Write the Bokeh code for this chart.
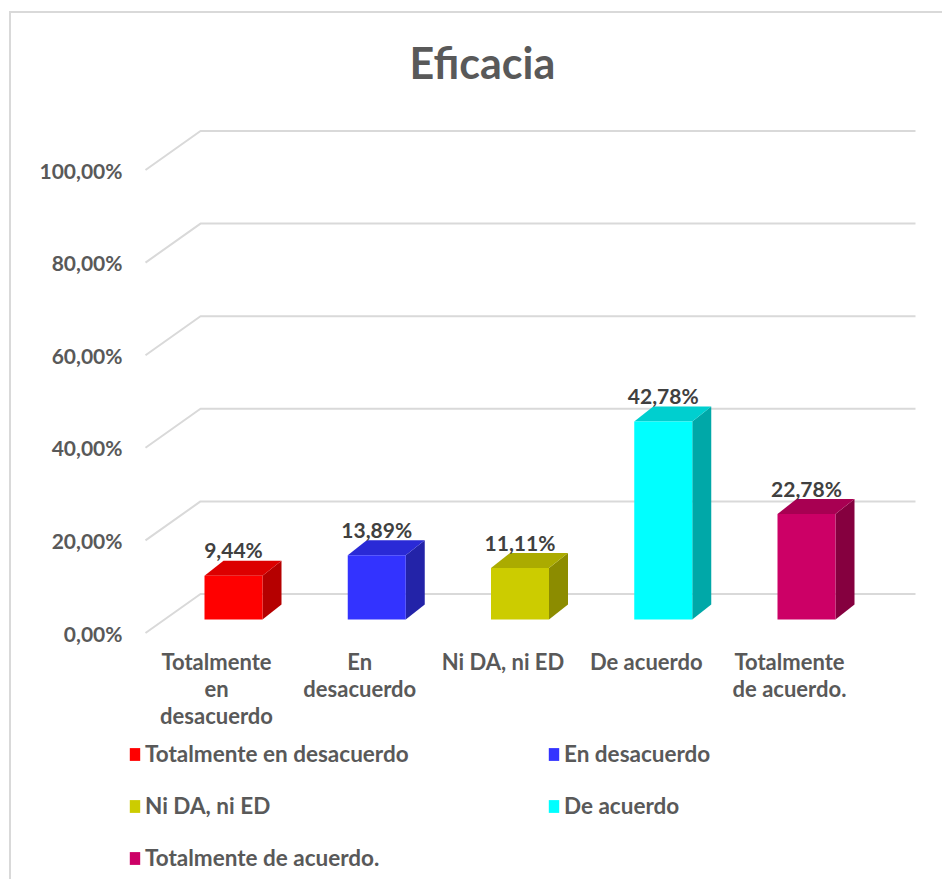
from bokeh.plotting import figure
from bokeh.models import Range1d, FixedTicker, ColumnDataSource, Legend, LegendItem
from bokeh.core.properties import value
from bokeh.embed import file_html
from bokeh.resources import INLINE

# ---------------- data ----------------
categories = ["Totalmente en desacuerdo", "En desacuerdo", "Ni DA, ni ED", "De acuerdo", "Totalmente de acuerdo."]
axis_labels = ["Totalmente\nen\ndesacuerdo", "En\ndesacuerdo", "Ni DA, ni ED", "De acuerdo", "Totalmente\nde acuerdo."]
values = [9.44, 13.89, 11.11, 42.78, 22.78]
front_colors = ["#FF0000", "#3333FF", "#CCCC00", "#00FFFF", "#CC0066"]
side_colors = ["#B50000", "#2323A8", "#8C8C00", "#00A8A8", "#85003F"]
top_colors = ["#DC0000", "#2A2AD6", "#ABAB00", "#00CFCF", "#A80052"]
y_ticks = [0, 20, 40, 60, 80, 100]
y_tick_labels = ["0,00%", "20,00%", "40,00%", "60,00%", "80,00%", "100,00%"]
title_text = "Eficacia"

# ---------------- geometry (style constants) ----------------
UX = 143.25   # px per category
UY = 4.63     # px per percent
wall_front_x = -71 / UX
wall_back_x = -16 / UX
wall_end_x = 699 / UX
wall_depth_y = 39 / UY
bar_dx = 17 / UX
bar_half = 29 / UX
bar_base = 13.5 / UY
depth_dx = 19 / UX
depth_dy = 15 / UY

OX, OY = 11, 13  # page offset of the canvas (inside the chart-area border)
W, H = 938, 868
FRAME_L, FRAME_R, FRAME_T, FRAME_B = 126, 930, 94, 878
ZERO_Y = 632.5

FONT = "Lato"
TXT = "#595959"

p = figure(width=W, height=H,
           x_range=Range1d((FRAME_L - 216) / UX, (FRAME_R - 216) / UX),
           y_range=Range1d((ZERO_Y - FRAME_B) / UY, (ZERO_Y - FRAME_T) / UY),
           x_axis_location=None,
           output_backend="svg", toolbar_location=None,
           min_border_left=FRAME_L - OX, min_border_right=(W + OX) - FRAME_R,
           min_border_top=FRAME_T - OY, min_border_bottom=(H + OY) - FRAME_B)
p.styles = {"margin-left": "9px", "margin-top": "11px",
            "border-left": "2px solid #D9D9D9", "border-top": "2px solid #D9D9D9"}
p.grid.visible = False
p.outline_line_color = None
p.background_fill_color = "white"
p.border_fill_color = "white"

# title
p.title.text = title_text
p.title.align = "left"
p.title.offset = 283
p.title.text_font = FONT
p.title.text_font_size = "43px"
p.title.text_font_style = "bold"
p.title.text_color = TXT
p.title.standoff = 14

# y axis
ya = p.yaxis[0]
ya.ticker = FixedTicker(ticks=y_ticks)
ya.major_label_overrides = {t: l for t, l in zip(y_ticks, y_tick_labels)}
ya.axis_line_color = None
ya.major_tick_line_color = None
ya.minor_tick_line_color = None
ya.major_tick_out = 0
ya.major_tick_in = 0
ya.major_label_standoff = 4
ya.major_label_text_font = FONT
ya.major_label_text_font_style = "bold"
ya.major_label_text_font_size = "21px"
ya.major_label_text_color = TXT

# 3D perspective gridlines
g_xs = [[wall_front_x, wall_back_x, wall_end_x] for t in y_ticks]
g_ys = [[t, t + wall_depth_y, t + wall_depth_y] for t in y_ticks]
p.multi_line(g_xs, g_ys, line_color="#D9D9D9", line_width=2)

# bars
idx = list(range(len(values)))
lefts = [i + bar_dx - bar_half for i in idx]
rights = [i + bar_dx + bar_half for i in idx]
bottoms = [bar_base for _ in idx]
tops = [bar_base + v for v in values]

side_xs = [[r, r + depth_dx, r + depth_dx, r] for r in rights]
side_ys = [[b, b + depth_dy, t + depth_dy, t] for b, t in zip(bottoms, tops)]
p.patches(side_xs, side_ys, fill_color=side_colors, line_color=None)

top_xs = [[l, r, r + depth_dx, l + depth_dx] for l, r in zip(lefts, rights)]
top_ys = [[t, t, t + depth_dy, t + depth_dy] for t in tops]
p.patches(top_xs, top_ys, fill_color=top_colors, line_color=None)

front_src = ColumnDataSource(dict(left=lefts, right=rights, bottom=bottoms, top=tops,
                                  color=front_colors, cat=categories))
front = p.quad(left="left", right="right", bottom="bottom", top="top",
               fill_color="color", line_color=None, source=front_src)

# value labels
lab_src = ColumnDataSource(dict(
    x=[i + bar_dx for i in idx],
    y=[t + depth_dy for t in tops],
    text=[("%.2f" % v).replace(".", ",") + "%" for v in values]))
p.text(x="x", y="y", text="text", source=lab_src, text_align="center",
       text_baseline="alphabetic", y_offset=-11,
       text_font=value(FONT), text_font_style="bold", text_font_size=value("21px"),
       text_color="#404040")

# category labels
cat_src = ColumnDataSource(dict(x=idx, y=[0 for _ in idx], text=axis_labels))
p.text(x="x", y="y", text="text", source=cat_src, text_align="center",
       text_baseline="top", y_offset=15, text_line_height=1.0,
       text_font=value(FONT), text_font_style="bold", text_font_size=value("22px"),
       text_color=TXT)

# legend
items = [LegendItem(label=c, renderers=[front], index=i) for i, c in enumerate(categories)]
legend = Legend(items=items, location=(2, 14 - (885 - FRAME_B)), orientation="horizontal", ncols=2,
                glyph_width=13, glyph_height=16, label_standoff=4, label_height=20,
                label_width=377, spacing=25, padding=0, margin=0,
                border_line_color=None, background_fill_alpha=0,
                label_text_font=FONT, label_text_font_style="bold",
                label_text_font_size="22.5px", label_text_color=TXT)
p.add_layout(legend, "center")

open("out.html", "w").write(file_html(p, INLINE))
